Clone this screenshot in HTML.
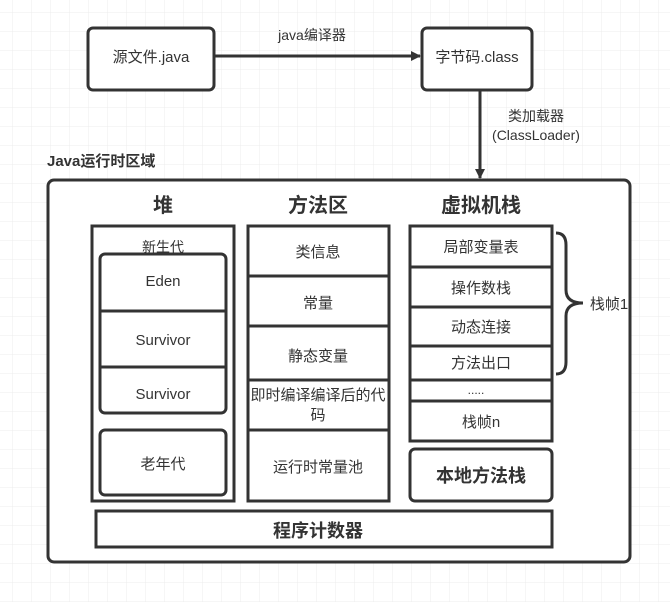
<!DOCTYPE html>
<html><head><meta charset="utf-8"><style>
body{margin:0;width:670px;height:602px;overflow:hidden;background:#fff;}
svg{display:block}
text{font-family:"Liberation Sans","Noto Sans CJK SC",sans-serif;fill:#333;}
</style></head><body>
<svg width="670" height="602" viewBox="0 0 670 602" xmlns="http://www.w3.org/2000/svg">
<defs>
<pattern id="g" x="12" y="12" width="19" height="19" patternUnits="userSpaceOnUse">
<path d="M0 0H19M0 0V19" stroke="#ececec" stroke-width="1" fill="none"/>
</pattern>
<marker id="a" markerWidth="10" markerHeight="10" refX="9" refY="5" orient="auto" markerUnits="userSpaceOnUse"><path d="M0,0 L10,5 L0,10 Z" fill="#333"/></marker>
</defs>
<rect width="670" height="602" fill="url(#g)"/>
<g stroke="#333" stroke-width="3" fill="#fff">
<rect x="88" y="28" width="126" height="62" rx="5"/>
<rect x="422" y="28" width="110" height="62" rx="5"/>
</g>
<line x1="214" y1="56" x2="420" y2="56" stroke="#333" stroke-width="3" marker-end="url(#a)"/>
<line x1="480" y1="90" x2="480" y2="178" stroke="#333" stroke-width="3" marker-end="url(#a)"/>
<text x="151" y="62" font-size="15" text-anchor="middle">源文件.java</text>
<text x="477" y="62" font-size="15" text-anchor="middle">字节码.class</text>
<text x="312" y="40" font-size="14" text-anchor="middle">java编译器</text>
<text x="536" y="121" font-size="14" text-anchor="middle">类加载器</text>
<text x="536" y="140" font-size="14" text-anchor="middle">(ClassLoader)</text>
<text x="47" y="166" font-size="15" font-weight="bold" fill="#222">Java运行时区域</text>
<rect x="48" y="180" width="582" height="382" rx="6" fill="#fff" stroke="#333" stroke-width="3"/>
<g font-size="20" font-weight="bold" text-anchor="middle">
<text x="163" y="212">堆</text><text x="318" y="212">方法区</text><text x="481" y="212">虚拟机栈</text>
</g>
<g stroke="#333" stroke-width="3" fill="none">
<rect x="92" y="226" width="142" height="275"/>
<rect x="100" y="254" width="126" height="159" rx="5"/>
<line x1="100" y1="311" x2="226" y2="311"/><line x1="100" y1="367" x2="226" y2="367"/>
<rect x="100" y="430" width="126" height="65" rx="5"/>
<rect x="248" y="226" width="141" height="275"/>
<line x1="248" y1="276" x2="389" y2="276"/><line x1="248" y1="326" x2="389" y2="326"/>
<line x1="248" y1="380" x2="389" y2="380"/><line x1="248" y1="430" x2="389" y2="430"/>
<rect x="410" y="226" width="142" height="215"/>
<line x1="410" y1="267" x2="552" y2="267"/><line x1="410" y1="307" x2="552" y2="307"/>
<line x1="410" y1="346" x2="552" y2="346"/><line x1="410" y1="380" x2="552" y2="380"/>
<line x1="410" y1="401" x2="552" y2="401"/>
<rect x="410" y="449" width="142" height="52" rx="5"/>
<rect x="96" y="511" width="456" height="36"/>
<path d="M556 233 Q566 233 566 245 L566 290 Q566 303 583 303 Q566 303 566 316 L566 362 Q566 374 556 374"/>
</g>
<g font-size="15" text-anchor="middle">
<text x="163" y="252" font-size="14">新生代</text>
<text x="163" y="286">Eden</text>
<text x="163" y="345">Survivor</text>
<text x="163" y="399">Survivor</text>
<text x="163" y="469">老年代</text>
<text x="318" y="257">类信息</text>
<text x="318" y="308">常量</text>
<text x="318" y="361">静态变量</text>
<text x="318" y="400">即时编译编译后的代</text>
<text x="318" y="420">码</text>
<text x="318" y="472">运行时常量池</text>
<text x="481" y="252">局部变量表</text>
<text x="481" y="293">操作数栈</text>
<text x="481" y="332">动态连接</text>
<text x="481" y="368">方法出口</text>
<text x="476" y="394" font-size="12">.....</text>
<text x="481" y="427">栈帧n</text>
<text x="609" y="309">栈帧1</text>
</g>
<text x="481" y="482" font-size="18" font-weight="bold" text-anchor="middle">本地方法栈</text>
<text x="318" y="537" font-size="18" font-weight="bold" text-anchor="middle">程序计数器</text>
</svg>
</body></html>
